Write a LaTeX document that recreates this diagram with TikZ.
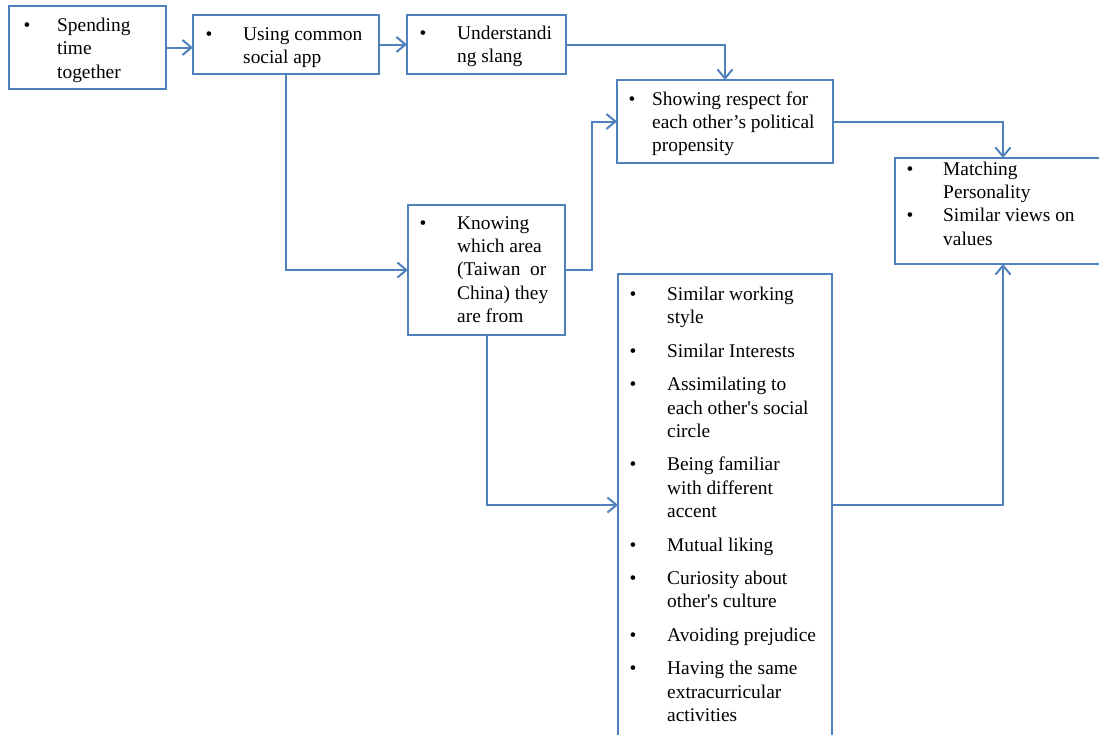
\documentclass[tikz,border=0pt]{standalone}
\usepackage{fontspec}
\setmainfont{Liberation Serif}
\usetikzlibrary{arrows.meta}
\definecolor{frame}{RGB}{79,129,189}
\tikzset{
  box/.style={draw=frame, line width=1.8pt, inner sep=0pt, outer sep=0pt,
              anchor=north west, fill=none},
  txt/.style={inner sep=0pt, anchor=base west,
              font=\fontsize{19.4}{23.4}\selectfont},
  conn/.style={draw=frame, line width=2pt,
               -{Straight Barb[length=9pt,width=15pt]}}
}
\begin{document}
\begin{tikzpicture}[x=1pt,y=-1pt]
\useasboundingbox (0,0) rectangle (1099,734);

% boxes
\node[box, minimum width=157, minimum height=83] (b1) at (9,6) {};
\node[box, minimum width=186, minimum height=59] (b2) at (193,15) {};
\node[box, minimum width=159, minimum height=59] (b3) at (407,15) {};
\node[box, minimum width=216, minimum height=83] (b4) at (617,80) {};
\node[box, minimum width=216, minimum height=106] (b5) at (895,158) {};
\node[box, minimum width=157, minimum height=130] (b6) at (408,205) {};
\node[box, minimum width=214, minimum height=462] (b7) at (618,274) {};

% box texts
\node[txt] (t1) at (23.5,31.5) {\begin{tabular}[t]{@{}p{33.5pt}@{}l@{}}
  \textbullet & Spending\\ & time\\ & together\end{tabular}};
\node[txt] (t2) at (205.5,40) {\begin{tabular}[t]{@{}p{37.5pt}@{}l@{}}
  \textbullet & Using common\\ & social app\end{tabular}};
\node[txt] (t3) at (419.5,39.5) {\begin{tabular}[t]{@{}p{37.5pt}@{}l@{}}
  \textbullet & Understandi\\ & ng slang\end{tabular}};
\node[txt] (t4) at (628.5,105) {\begin{tabular}[t]{@{}p{23.5pt}@{}l@{}}
  \textbullet & Showing respect for\\ & each other’s political\\ & propensity\end{tabular}};
\node[txt] (t5) at (906.5,175) {\begin{tabular}[t]{@{}p{36.5pt}@{}l@{}}
  \textbullet & Matching\\ & Personality\\
  \textbullet & Similar views on\\ & values\end{tabular}};
\node[txt] (t6) at (419.5,229) {\begin{tabular}[t]{@{}p{37.5pt}@{}l@{}}
  \textbullet & Knowing\\ & which area\\ & (Taiwan\ \ or\\ & China) they\\ & are from\end{tabular}};
\node[txt] (t7) at (629.5,300.5) {\begin{tabular}[t]{@{}p{37.5pt}@{}l@{}}
  \textbullet & Similar working\\ & style\\[10pt]
  \textbullet & Similar Interests\\[10pt]
  \textbullet & Assimilating to\\ & each other\textquotesingle s social\\ & circle\\[10pt]
  \textbullet & Being familiar\\ & with different\\ & accent\\[10pt]
  \textbullet & Mutual liking\\[10pt]
  \textbullet & Curiosity about\\ & other\textquotesingle s culture\\[10pt]
  \textbullet & Avoiding prejudice\\[10pt]
  \textbullet & Having the same\\ & extracurricular\\ & activities\end{tabular}};

% connectors
\draw[conn] (b1.east) -- (b1.east -| b2.west);
\draw[conn] (b2.east) -- (b3.west);
\draw[conn] (b3.east) -| (b4.north);
\draw[conn] (b2.south) |- (b6.west);
\draw[conn] (b6.east) -- ++(27,0) |- (b4.west);
\draw[conn] (b4.east) -| (b5.north);
\draw[conn] (b6.south) |- (b7.west);
\draw[conn] (b7.east) -| (b5.south);
\end{tikzpicture}
\end{document}
